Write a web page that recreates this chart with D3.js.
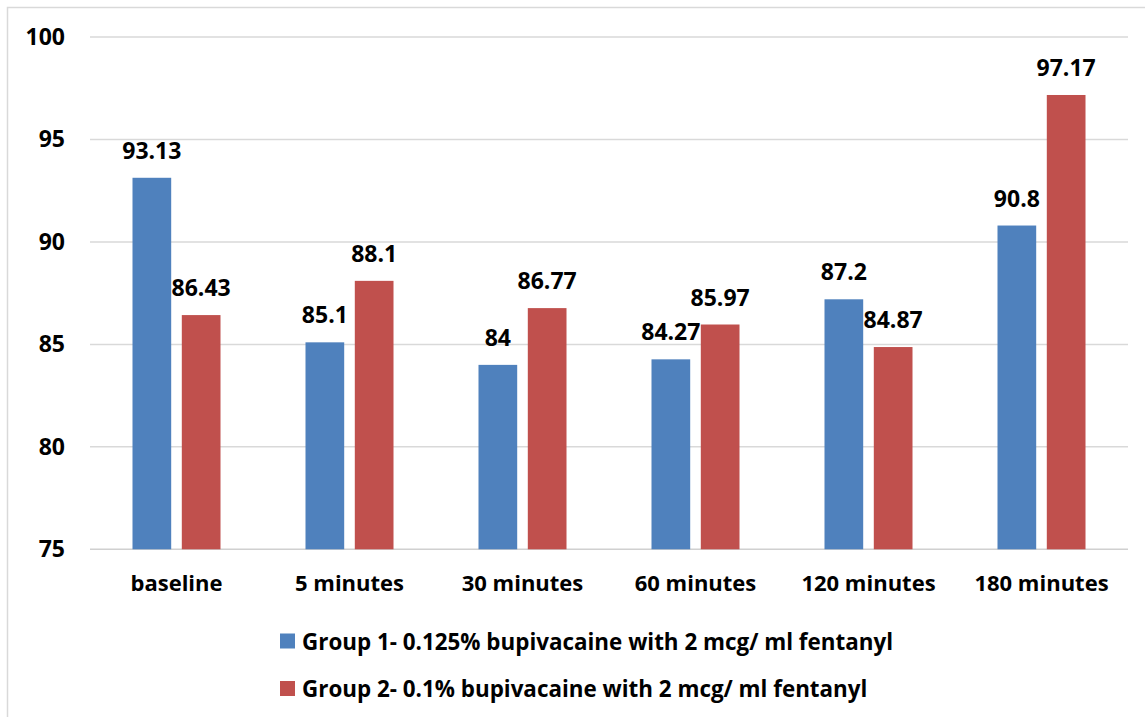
<!DOCTYPE html>
<html>
<head>
<meta charset="utf-8">
<script src="https://cdn.jsdelivr.net/npm/d3@7"></script>
<style>
  html, body { margin: 0; padding: 0; background: #fff; }
  svg { display: block; }
  text { font-family: "Open Sans", "Liberation Sans", sans-serif; font-weight: 700; fill: #000; }
</style>
</head>
<body>
<svg id="chart" width="1145" height="717"></svg>
<script>
// Time points and group means
const categories = ["baseline", "5 minutes", "30 minutes", "60 minutes", "120 minutes", "180 minutes"];
const group1 = [93.13, 85.1, 84, 84.27, 87.2, 90.8];
const group2 = [86.43, 88.1, 86.77, 85.97, 84.87, 97.17];
const seriesNames = [
  "Group 1- 0.125% bupivacaine with 2 mcg/ ml fentanyl",
  "Group 2- 0.1% bupivacaine with 2 mcg/ ml fentanyl"
];
const seriesColors = ["#4F81BD", "#C0504D"];
const yTicks = [75, 80, 85, 90, 95, 100];

const svg = d3.select("#chart");
const W = 1145, H = 717;

// outer frame (top and left edges visible, the rest runs off the canvas)
svg.append("rect")
  .attr("x", 7.5).attr("y", 7.5)
  .attr("width", W + 10).attr("height", H + 10)
  .attr("fill", "#fff").attr("stroke", "#d9d9d9").attr("stroke-width", 1.5);

const plot = { left: 90, right: 1128, top: 37, bottom: 549.3 };

const x = d3.scaleBand().domain(categories).range([plot.left, plot.right]).paddingInner(0).paddingOuter(0);
const y = d3.scaleLinear().domain([75, 100]).range([plot.bottom, plot.top]);

const groupW = x.bandwidth() * 0.5087;
const xs = d3.scaleBand().domain([0, 1]).range([0, groupW]).paddingInner(0.215).paddingOuter(0);

// gridlines
svg.append("g").selectAll("line").data(yTicks).join("line")
  .attr("x1", plot.left).attr("x2", plot.right)
  .attr("y1", d => y(d)).attr("y2", d => y(d))
  .attr("stroke", d => d === 75 ? "#d0d0d0" : "#d9d9d9")
  .attr("stroke-width", 1.5);

// y tick labels
const yAxis = d3.axisLeft(y).tickValues(yTicks).tickSize(0).tickPadding(0);
const gy = svg.append("g").attr("transform", "translate(65,0)").call(yAxis);
gy.select(".domain").remove();
gy.selectAll("text")
  .style("font-family", '"Open Sans", sans-serif')
  .style("font-weight", 700)
  .style("font-size", "23px")
  .attr("fill", "#000");

// category labels
const xAxis = d3.axisBottom(x).tickSize(0).tickPadding(0);
const gx = svg.append("g").attr("transform", `translate(0,${plot.bottom})`).call(xAxis);
gx.select(".domain").remove();
gx.selectAll("text")
  .attr("dy", null).attr("y", 42)
  .style("font-family", '"Open Sans", sans-serif')
  .style("font-weight", 700)
  .style("font-size", "22px")
  .attr("fill", "#000");

// bars and value labels
const series = [group1, group2];
series.forEach((vals, si) => {
  const data = categories.map((c, i) => ({ c, v: vals[i] }));
  const g = svg.append("g");
  g.selectAll("rect").data(data).join("rect")
    .attr("x", d => x(d.c) + (x.bandwidth() - groupW) / 2 + xs(si))
    .attr("width", xs.bandwidth())
    .attr("y", d => y(d.v))
    .attr("height", d => y(75) - y(d.v))
    .attr("fill", seriesColors[si]);
  g.selectAll("text").data(data).join("text")
    .attr("x", d => x(d.c) + (x.bandwidth() - groupW) / 2 + xs(si) + xs.bandwidth() / 2)
    .attr("y", d => y(d.v) - 19)
    .attr("text-anchor", "middle")
    .style("font-size", "23px")
    .text(d => d.v);
});

// legend
const legend = svg.append("g");
const legendRows = [641, 688.5];
seriesNames.forEach((name, i) => {
  legend.append("rect")
    .attr("x", 280).attr("y", legendRows[i] - 7.5)
    .attr("width", 15).attr("height", 15)
    .attr("fill", seriesColors[i]);
  legend.append("text")
    .attr("x", 302).attr("y", legendRows[i])
    .attr("dominant-baseline", "central")
    .style("font-size", "22.4px")
    .text(name);
});
</script>
</body>
</html>
